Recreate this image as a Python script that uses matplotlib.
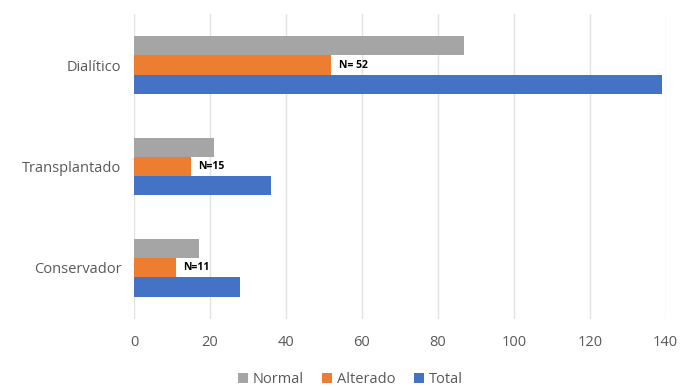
import numpy as np
import matplotlib
matplotlib.use("Agg")
import matplotlib.pyplot as plt

categories = ["Dialítico", "Transplantado", "Conservador"]
normal = [87, 21, 17]
alterado = [52, 15, 11]
total = [139, 36, 28]
n_labels = ["N= 52", "N=15", "N=11"]

plt.rcParams['font.family'] = ['Open Sans', 'DejaVu Sans']

fig = plt.figure(figsize=(6.8, 3.87), dpi=100)
ax = fig.add_axes([0.197, 0.177, 0.782, 0.786])

ind = np.arange(len(categories))
h = 0.19
ax.barh(ind - h, normal, h, color="#A5A5A5", label="Normal")
ax.barh(ind, alterado, h, color="#ED7D31", label="Alterado")
ax.barh(ind + h, total, h, color="#4472C4", label="Total")

for i, lab in enumerate(n_labels):
    ax.text(alterado[i] + 2, ind[i], lab, va="center", ha="left",
            fontsize=7.5, fontweight="bold", color="black")

ax.set_ylim(2.5, -0.5)
ax.set_xlim(0, 140)
ax.set_xticks(np.arange(0, 141, 20))
ax.set_yticks(ind)
ax.set_yticklabels(categories)
ax.tick_params(axis="both", colors="#595959", labelsize=10.5, length=0)
ax.tick_params(axis="x", pad=12)
ax.tick_params(axis="y", pad=9)
ax.xaxis.grid(True, color="#E3E3E3", linewidth=1)
ax.set_axisbelow(True)
for s in ax.spines.values():
    s.set_visible(False)

handles, labels = ax.get_legend_handles_labels()
fig.legend(handles, labels, loc="lower center", bbox_to_anchor=(0.515, -0.035), ncol=3,
           frameon=False, fontsize=10.5, handlelength=0.7, handleheight=0.7,
           handletextpad=0.3, columnspacing=1.3, labelcolor="#595959")

plt.savefig("out.png", dpi=100)
